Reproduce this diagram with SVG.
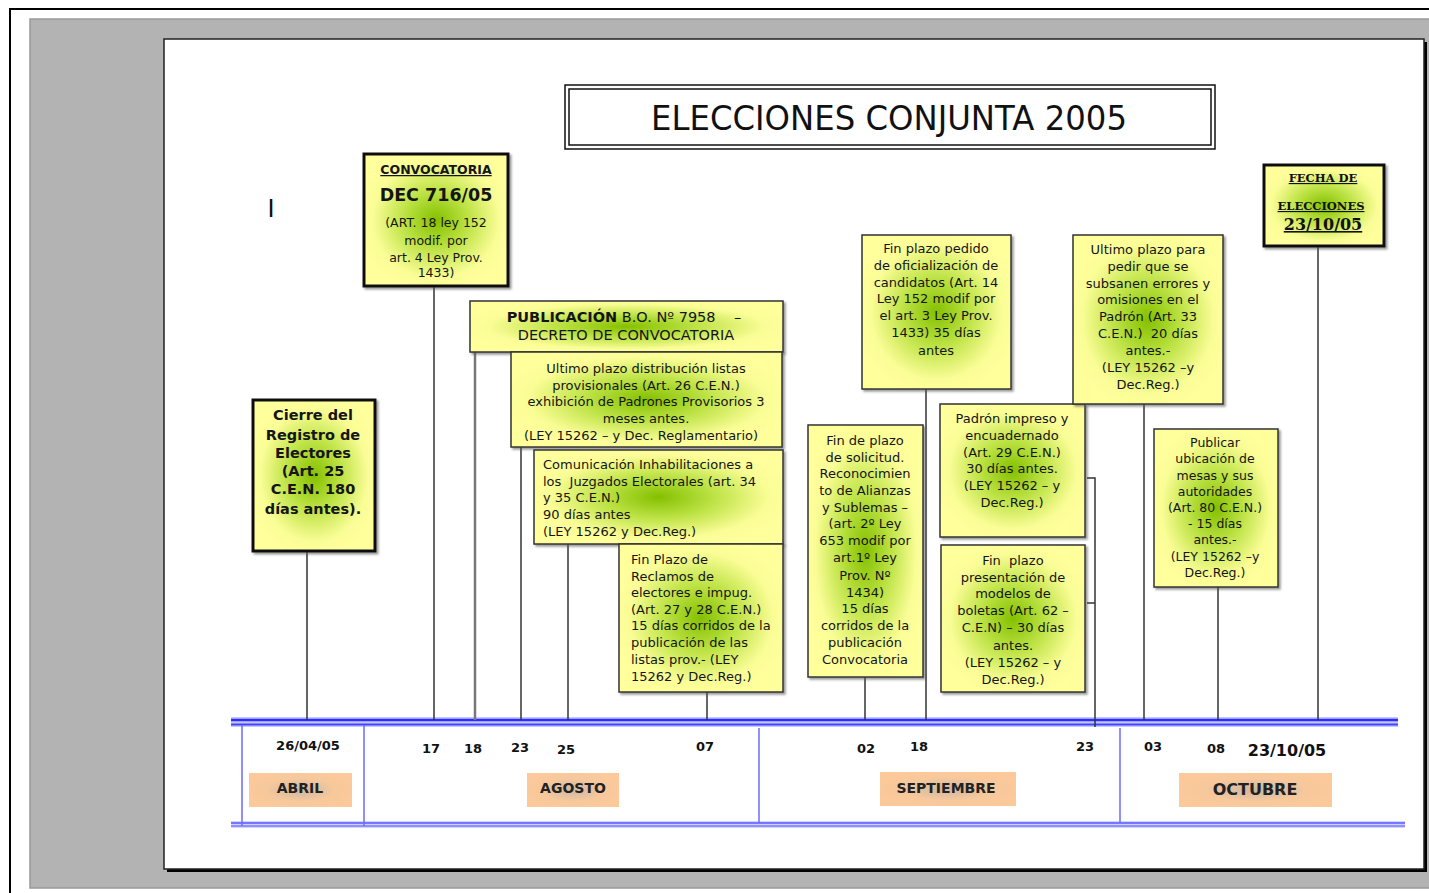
<svg xmlns="http://www.w3.org/2000/svg" width="1429" height="893" viewBox="0 0 1429 893">
<defs>
<radialGradient id="gy" cx="50%" cy="50%" r="55%">
<stop offset="0" stop-color="#84c000"/>
<stop offset="0.4" stop-color="#bce244"/>
<stop offset="0.8" stop-color="#fafd96"/>
<stop offset="1" stop-color="#ffff9c"/>
</radialGradient>
<radialGradient id="go" cx="50%" cy="50%" r="55%">
<stop offset="0" stop-color="#cdb8a4"/>
<stop offset="0.6" stop-color="#f6c89c"/>
<stop offset="1" stop-color="#fcc99a"/>
</radialGradient>
<filter id="sh" x="-10%" y="-10%" width="130%" height="130%">
<feDropShadow dx="2" dy="2" stdDeviation="0.8" flood-color="#555" flood-opacity="0.6"/>
</filter>
<style>
.box{fill:url(#gy);stroke:#333;stroke-width:1.5;filter:url(#sh)}
.bx3{fill:url(#gy);stroke:#111;stroke-width:3;filter:url(#sh)}
.mon{fill:url(#go);stroke:none}
.t{font-family:"DejaVu Sans",sans-serif;font-size:13px;fill:#151515;text-anchor:middle}
.tl{font-family:"DejaVu Sans",sans-serif;font-size:13px;fill:#151515;text-anchor:start}
.b{font-weight:bold}
.s125{font-size:12.5px}
.s145{font-size:14.5px}
.d{font-family:"DejaVu Sans",sans-serif;font-size:13px;font-weight:bold;fill:#111;text-anchor:middle}
.m{font-family:"DejaVu Sans",sans-serif;font-size:14px;font-weight:bold;fill:#222;text-anchor:middle}
.sf{font-family:"DejaVu Serif",serif;font-weight:bold;font-size:11.5px;fill:#111;text-anchor:middle;text-decoration:underline}
.c{stroke:#333;stroke-width:1.5;fill:none}
.sep{stroke:#6a6aff;stroke-width:1.5}
</style>
</defs>

<!-- frame -->
<rect x="10" y="9" width="1440" height="900" fill="#fff" stroke="#000" stroke-width="2"/>
<rect x="30" y="19" width="1420" height="869" fill="#b3b3b3" stroke="#999" stroke-width="1.5"/>
<rect x="167" y="42" width="1260" height="830" fill="#000"/>
<rect x="164" y="39" width="1260" height="830" fill="#fff" stroke="#222" stroke-width="1.5"/>

<!-- title -->
<g id="title">
<rect x="565" y="85" width="650" height="64" fill="#fff" stroke="#111" stroke-width="1.5"/>
<rect x="569" y="89" width="642" height="56" fill="#fff" stroke="#111" stroke-width="1.5"/>
<text x="889" y="130" font-family="DejaVu Sans, sans-serif" font-size="33" fill="#111" text-anchor="middle" textLength="476" lengthAdjust="spacingAndGlyphs">ELECCIONES CONJUNTA 2005</text>
</g>

<text x="271" y="217" font-family="DejaVu Sans, sans-serif" font-size="24" fill="#111" text-anchor="middle">I</text>

<!-- timeline -->
<g id="timeline">
<rect x="231" y="717" width="1167" height="10" fill="#c5c8ff"/>
<line x1="231" y1="720" x2="1398" y2="720" stroke="#2d2dff" stroke-width="2.5"/>
<line x1="231" y1="724.5" x2="1398" y2="724.5" stroke="#4545ff" stroke-width="2"/>
<rect x="231" y="821" width="1174" height="7" fill="#d0d3ff"/>
<line x1="231" y1="823" x2="1405" y2="823" stroke="#5a5aff" stroke-width="1.5"/>
<line x1="231" y1="826" x2="1405" y2="826" stroke="#7a7aff" stroke-width="1.5"/>
<line class="sep" x1="242" y1="725" x2="242" y2="826"/>
<line class="sep" x1="364" y1="725" x2="364" y2="826"/>
<line class="sep" x1="759" y1="728" x2="759" y2="823"/>
<line class="sep" x1="1120" y1="728" x2="1120" y2="823"/>
</g>

<!-- connectors -->
<g id="connectors">
<line class="c" x1="307" y1="551" x2="307" y2="720"/>
<line class="c" x1="434" y1="287" x2="434" y2="720"/>
<line x1="475" y1="352" x2="475" y2="720" stroke="#777" stroke-width="2.5"/>
<line class="c" x1="521" y1="447" x2="521" y2="720"/>
<line class="c" x1="568" y1="544" x2="568" y2="720"/>
<line class="c" x1="707" y1="692" x2="707" y2="720"/>
<line class="c" x1="865" y1="677" x2="865" y2="720"/>
<line class="c" x1="926" y1="389" x2="926" y2="720"/>
<polyline class="c" points="1087,478 1095,478 1095,727"/>
<line class="c" x1="1087" y1="603" x2="1095" y2="603"/>
<line class="c" x1="1144" y1="404" x2="1144" y2="720"/>
<line class="c" x1="1218" y1="587" x2="1218" y2="720"/>
<line class="c" x1="1318" y1="246" x2="1318" y2="720"/>
</g>

<!-- nodes -->
<g id="convocatoria">
<rect class="bx3" x="364" y="154" width="144" height="132"/>
<text class="t b s125" x="436" y="174" text-decoration="underline">CONVOCATORIA</text>
<text class="t b" x="436" y="201" style="font-size:17.5px">DEC 716/05</text>
<text class="t s125" x="436" y="227">(ART. 18 ley 152</text>
<text class="t s125" x="436" y="245">modif. por</text>
<text class="t s125" x="436" y="262">art. 4 Ley Prov.</text>
<text class="t s125" x="436" y="277">1433)</text>
</g>

<g id="cierre">
<rect class="bx3" x="253" y="400" width="122" height="151"/>
<text class="t b s145" x="313" y="420">Cierre del</text>
<text class="t b s145" x="313" y="440">Registro de</text>
<text class="t b s145" x="313" y="458">Electores</text>
<text class="t b s145" x="313" y="476">(Art. 25</text>
<text class="t b s145" x="313" y="494">C.E.N. 180</text>
<text class="t b s145" x="313" y="514">días antes).</text>
</g>

<g id="publicacion">
<rect class="box" x="470" y="301" width="313" height="51"/>
<text class="t s145" x="624" y="322"><tspan font-weight="bold">PUBLICACIÓN</tspan> B.O. Nº 7958&#160;&#160;&#160;&#160;–</text>
<text class="t s145" x="626" y="340">DECRETO DE CONVOCATORIA</text>
</g>

<g id="ultimo-distribucion">
<rect class="box" x="511" y="352" width="271" height="95"/>
<text class="t" x="646" y="373">Ultimo plazo distribución listas</text>
<text class="t" x="646" y="390">provisionales (Art. 26 C.E.N.)</text>
<text class="t" x="646" y="406">exhibición de Padrones Provisorios 3</text>
<text class="t" x="646" y="423">meses antes.</text>
<text class="t" x="641" y="440">(LEY 15262 – y Dec. Reglamentario)</text>
</g>

<g id="comunicacion">
<rect class="box" x="534" y="450" width="249" height="94"/>
<text class="tl" x="543" y="469">Comunicación Inhabilitaciones a</text>
<text class="tl" x="543" y="486">los&#160; Juzgados Electorales (art. 34</text>
<text class="tl" x="543" y="502">y 35 C.E.N.)</text>
<text class="tl" x="543" y="519">90 días antes</text>
<text class="tl" x="543" y="536">(LEY 15262 y Dec.Reg.)</text>
</g>

<g id="fin-reclamos">
<rect class="box" x="619" y="544" width="164" height="148"/>
<text class="tl" x="631" y="564">Fin Plazo de</text>
<text class="tl" x="631" y="581">Reclamos de</text>
<text class="tl" x="631" y="597">electores e impug.</text>
<text class="tl" x="631" y="614">(Art. 27 y 28 C.E.N.)</text>
<text class="tl" x="631" y="630">15 días corridos de la</text>
<text class="tl" x="631" y="647">publicación de las</text>
<text class="tl" x="631" y="664">listas prov.- (LEY</text>
<text class="tl" x="631" y="681">15262 y Dec.Reg.)</text>
</g>

<g id="fin-oficializacion">
<rect class="box" x="862" y="235" width="149" height="154"/>
<text class="t" x="936" y="253">Fin plazo pedido</text>
<text class="t" x="936" y="270">de oficialización de</text>
<text class="t" x="936" y="287">candidatos (Art. 14</text>
<text class="t" x="936" y="303">Ley 152 modif por</text>
<text class="t" x="936" y="320">el art. 3 Ley Prov.</text>
<text class="t" x="936" y="337">1433) 35 días</text>
<text class="t" x="936" y="355">antes</text>
</g>

<g id="fin-solicitud">
<rect class="box" x="808" y="425" width="115" height="252"/>
<text class="t" x="865" y="445">Fin de plazo</text>
<text class="t" x="865" y="462">de solicitud.</text>
<text class="t" x="865" y="478">Reconocimien</text>
<text class="t" x="865" y="495">to de Alianzas</text>
<text class="t" x="865" y="512">y Sublemas –</text>
<text class="t" x="865" y="528">(art. 2º Ley</text>
<text class="t" x="865" y="545">653 modif por</text>
<text class="t" x="865" y="562">art.1º Ley</text>
<text class="t" x="865" y="580">Prov. Nº</text>
<text class="t" x="865" y="597">1434)</text>
<text class="t" x="865" y="613">15 días</text>
<text class="t" x="865" y="630">corridos de la</text>
<text class="t" x="865" y="647">publicación</text>
<text class="t" x="865" y="664">Convocatoria</text>
</g>

<g id="padron">
<rect class="box" x="940" y="404" width="145" height="133"/>
<text class="t" x="1012" y="423">Padrón impreso y</text>
<text class="t" x="1012" y="440">encuadernado</text>
<text class="t" x="1012" y="457">(Art. 29 C.E.N.)</text>
<text class="t" x="1012" y="473">30 días antes.</text>
<text class="t" x="1012" y="490">(LEY 15262 – y</text>
<text class="t" x="1012" y="507">Dec.Reg.)</text>
</g>

<g id="fin-boletas">
<rect class="box" x="941" y="545" width="144" height="147"/>
<text class="t" x="1013" y="565">Fin&#160; plazo</text>
<text class="t" x="1013" y="582">presentación de</text>
<text class="t" x="1013" y="598">modelos de</text>
<text class="t" x="1013" y="615">boletas (Art. 62 –</text>
<text class="t" x="1013" y="632">C.E.N) – 30 días</text>
<text class="t" x="1013" y="650">antes.</text>
<text class="t" x="1013" y="667">(LEY 15262 – y</text>
<text class="t" x="1013" y="684">Dec.Reg.)</text>
</g>

<g id="ultimo-padron">
<rect class="box" x="1073" y="235" width="150" height="169"/>
<text class="t" x="1148" y="254">Ultimo plazo para</text>
<text class="t" x="1148" y="271">pedir que se</text>
<text class="t" x="1148" y="288">subsanen errores y</text>
<text class="t" x="1148" y="304">omisiones en el</text>
<text class="t" x="1148" y="321">Padrón (Art. 33</text>
<text class="t" x="1148" y="338">C.E.N.)&#160; 20 días</text>
<text class="t" x="1148" y="355">antes.-</text>
<text class="t" x="1148" y="372">(LEY 15262 –y</text>
<text class="t" x="1148" y="389">Dec.Reg.)</text>
</g>

<g id="publicar">
<rect class="box" x="1154" y="429" width="124" height="158"/>
<text class="t s125" x="1215" y="447">Publicar</text>
<text class="t s125" x="1215" y="463">ubicación de</text>
<text class="t s125" x="1215" y="480">mesas y sus</text>
<text class="t s125" x="1215" y="496">autoridades</text>
<text class="t s125" x="1215" y="512">(Art. 80 C.E.N.)</text>
<text class="t s125" x="1215" y="528">- 15 días</text>
<text class="t s125" x="1215" y="544">antes.-</text>
<text class="t s125" x="1215" y="561">(LEY 15262 –y</text>
<text class="t s125" x="1215" y="577">Dec.Reg.)</text>
</g>

<g id="fecha-elecciones">
<rect class="bx3" x="1264" y="165" width="120" height="81"/>
<text class="sf" x="1323" y="182">FECHA DE</text>
<text class="sf" x="1321" y="210">ELECCIONES</text>
<text class="sf" x="1323" y="230" style="font-size:16px">23/10/05</text>
</g>

<!-- dates -->
<g id="dates">
<text class="d" x="308" y="750">26/04/05</text>
<text class="d" x="431" y="753">17</text>
<text class="d" x="473" y="753">18</text>
<text class="d" x="520" y="752">23</text>
<text class="d" x="566" y="754">25</text>
<text class="d" x="705" y="751">07</text>
<text class="d" x="866" y="753">02</text>
<text class="d" x="919" y="751">18</text>
<text class="d" x="1085" y="751">23</text>
<text class="d" x="1153" y="751">03</text>
<text class="d" x="1216" y="753">08</text>
<text class="d" x="1287" y="756" style="font-size:16px">23/10/05</text>
</g>

<!-- months -->
<g id="mes-abril">
<rect class="mon" x="249" y="773" width="103" height="34"/>
<text class="m" x="300" y="793">ABRIL</text>
</g>
<g id="mes-agosto">
<rect class="mon" x="527" y="773" width="92" height="34"/>
<text class="m" x="573" y="793">AGOSTO</text>
</g>
<g id="mes-septiembre">
<rect class="mon" x="880" y="772" width="136" height="34"/>
<text class="m" x="946" y="793">SEPTIEMBRE</text>
</g>
<g id="mes-octubre">
<rect class="mon" x="1179" y="773" width="153" height="34"/>
<text class="m" x="1255" y="795" style="font-size:16px">OCTUBRE</text>
</g>
</svg>
